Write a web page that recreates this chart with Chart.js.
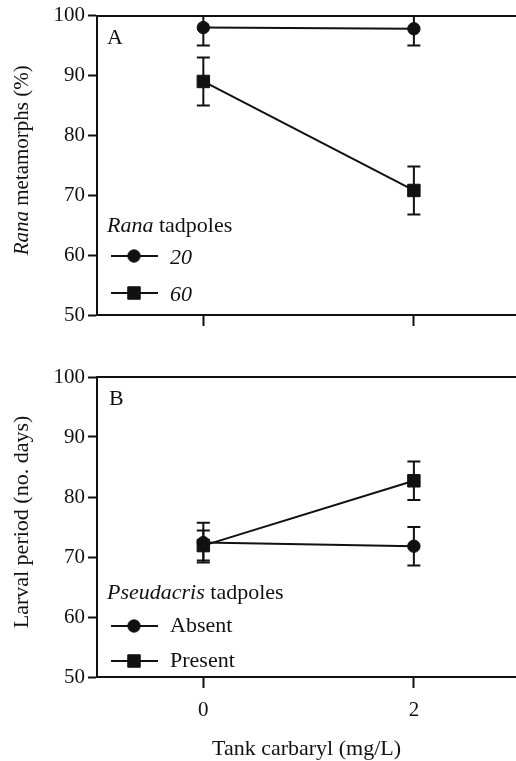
<!DOCTYPE html>
<html>
<head>
<meta charset="utf-8">
<script src="https://cdn.jsdelivr.net/npm/chart.js@4/dist/chart.umd.min.js"></script>
<style>
  html, body { margin: 0; padding: 0; background: #fff; }
  #wrap { position: relative; width: 516px; height: 761px; overflow: hidden; }
  canvas { position: absolute; left: 0; }
  #panelA { top: 0; }
  #panelB { top: 340px; }
</style>
</head>
<body>
<div id="wrap">
  <canvas id="panelA" width="516" height="340"></canvas>
  <canvas id="panelB" width="516" height="421"></canvas>
</div>
<script>
const carbaryl = [0, 2];
const xTicks = [0, 2];
const yTicks = [50, 60, 70, 80, 90, 100];

// A: Rana metamorphs (%), by Rana tadpole density
const rana20 = [98.0, 97.8];
const rana20Err = [3.0, 2.8];
const rana60 = [89.0, 70.8];
const rana60Err = [4.0, 4.0];

// B: larval period (days), Pseudacris absent / present
const pseudAbsent = [72.4, 71.8];
const pseudAbsentErr = [3.3, 3.2];
const pseudPresent = [71.9, 82.7];
const pseudPresentErr = [2.5, 3.2];

const INK = "#111";
const SERIF = "'Liberation Serif', 'Times New Roman', Times, serif";

function font(size, italic) {
  return (italic ? "italic " : "") + size + "px " + SERIF;
}

// draws [[text, italic], ...] on one baseline
function drawRich(ctx, parts, x, y, size, align) {
  let total = 0;
  parts.forEach(([t, it]) => { ctx.font = font(size, it); total += ctx.measureText(t).width; });
  let cx = align === "center" ? x - total / 2 : x;
  ctx.textBaseline = "middle";
  ctx.textAlign = "left";
  parts.forEach(([t, it]) => {
    ctx.font = font(size, it);
    ctx.fillText(t, cx, y);
    cx += ctx.measureText(t).width;
  });
}

const errorBars = {
  id: "errorBars",
  beforeDatasetsDraw(chart) {
    const { ctx, chartArea: a, scales: { x, y } } = chart;
    ctx.save();
    ctx.beginPath();
    ctx.rect(a.left, a.top, a.right - a.left, a.bottom - a.top);
    ctx.clip();
    ctx.strokeStyle = INK;
    ctx.lineWidth = 2;
    chart.data.datasets.forEach((ds) => {
      ds.data.forEach((p, i) => {
        const e = ds.errors[i];
        const px = x.getPixelForValue(p.x);
        const hi = y.getPixelForValue(p.y + e);
        const lo = y.getPixelForValue(p.y - e);
        ctx.beginPath();
        ctx.moveTo(px, hi); ctx.lineTo(px, lo);
        ctx.moveTo(px - 6.5, hi); ctx.lineTo(px + 6.5, hi);
        ctx.moveTo(px - 6.5, lo); ctx.lineTo(px + 6.5, lo);
        ctx.stroke();
      });
    });
    ctx.restore();
  },
};

const panelText = {
  id: "panelText",
  afterDraw(chart, args, opts) {
    const { ctx, chartArea: { left, top, bottom } } = chart;
    ctx.save();
    ctx.fillStyle = INK;
    ctx.strokeStyle = INK;

    // panel letter
    drawRich(ctx, [[opts.letter, false]], left + opts.letterX, top + opts.letterY, 22);

    // rotated y title
    ctx.save();
    ctx.translate(22, (top + bottom) / 2 - 5);
    ctx.rotate(-Math.PI / 2);
    drawRich(ctx, opts.yTitle, 0, 0, opts.yTitleSize, "center");
    ctx.restore();

    // legend block
    drawRich(ctx, opts.header, left + 10, bottom - opts.headerOffset, 22);
    chart.data.datasets.forEach((ds, i) => {
      const yy = bottom - opts.rowOffsets[i];
      ctx.lineWidth = 2;
      ctx.beginPath();
      ctx.moveTo(left + 14, yy);
      ctx.lineTo(left + 61, yy);
      ctx.stroke();
      ctx.lineWidth = 1;
      Chart.helpers.drawPoint(ctx, {
        pointStyle: ds.pointStyle, radius: ds.pointRadius, borderWidth: 1, rotation: 0,
      }, left + 37, yy);
      drawRich(ctx, [[ds.label, opts.italicLabels]], left + 73, yy + opts.labelDy, 22);
    });
    ctx.restore();
  },
};

function series(label, ys, errs, style) {
  return {
    label,
    data: carbaryl.map((c, i) => ({ x: c, y: ys[i] })),
    errors: errs,
    showLine: true,
    borderColor: INK,
    borderWidth: 2,
    backgroundColor: INK,
    pointBackgroundColor: INK,
    pointBorderColor: INK,
    pointBorderWidth: 1,
    pointStyle: style,
    pointRadius: style === "rect" ? 8.8 : 6.2,
    pointHoverRadius: style === "rect" ? 8.8 : 6.2,
    tension: 0,
  };
}

function makePanel(id, datasets, cfg) {
  return new Chart(document.getElementById(id), {
    type: "scatter",
    data: { datasets },
    options: {
      responsive: false,
      animation: false,
      events: [],
      layout: { autoPadding: false, padding: { top: cfg.padTop, right: 0, bottom: 0, left: 0 } },
      plugins: {
        legend: { display: false },
        tooltip: { enabled: false },
        panelText: cfg.text,
      },
      scales: {
        x: {
          type: "linear",
          position: "bottom",
          min: -1.01,
          max: 2.97,
          afterBuildTicks: (s) => { s.ticks = xTicks.map((v) => ({ value: v })); },
          afterFit: (s) => { s.height = cfg.xHeight; },
          grid: { drawOnChartArea: false, drawTicks: true, tickLength: 11, tickWidth: 2, tickColor: INK },
          border: { display: true, color: INK, width: 2 },
          ticks: {
            display: true,
            padding: 10,
            color: INK,
            font: { family: SERIF, size: 21 },
            maxRotation: 0,
            callback: (v) => (cfg.xLabels ? String(v) : ""),
          },
          title: {
            display: !!cfg.xTitle,
            text: cfg.xTitle || "",
            color: INK,
            font: { family: SERIF, size: 22 },
            padding: { top: 0, bottom: -1 },
          },
        },
        xTop: {
          type: "linear",
          position: "top",
          min: -1.01,
          max: 2.97,
          afterFit: (s) => { s.height = 0; },
          grid: { display: false, drawTicks: false },
          border: { display: true, color: INK, width: 2 },
          ticks: { display: false },
        },
        y: {
          type: "linear",
          min: 50,
          max: 100,
          afterBuildTicks: (s) => { s.ticks = yTicks.map((v) => ({ value: v })); },
          afterFit: (s) => { s.width = 97; },
          grid: { drawOnChartArea: false, drawTicks: true, tickLength: 9, tickWidth: 2, tickColor: INK },
          border: { display: true, color: INK, width: 2 },
          ticks: { padding: 3, color: INK, font: { family: SERIF, size: 21 } },
        },
      },
    },
    plugins: [errorBars, panelText],
  });
}

makePanel("panelA", [
  series("20", rana20, rana20Err, "circle"),
  series("60", rana60, rana60Err, "rect"),
], {
  padTop: 15,
  xHeight: 25,
  xLabels: false,
  text: {
    letter: "A", letterX: 10, letterY: 23,
    yTitle: [["Rana", true], [" metamorphs (%)", false]],
    yTitleSize: 21,
    header: [["Rana", true], [" tadpoles", false]],
    headerOffset: 89,
    rowOffsets: [59, 22],
    italicLabels: true,
    labelDy: 2,
  },
});

makePanel("panelB", [
  series("Absent", pseudAbsent, pseudAbsentErr, "circle"),
  series("Present", pseudPresent, pseudPresentErr, "rect"),
], {
  padTop: 37,
  xHeight: 84,
  xLabels: true,
  xTitle: "Tank carbaryl (mg/L)",
  text: {
    letter: "B", letterX: 12, letterY: 22,
    yTitle: [["Larval period (no. days)", false]],
    yTitleSize: 22,
    header: [["Pseudacris", true], [" tadpoles", false]],
    headerOffset: 84,
    rowOffsets: [51, 16],
    italicLabels: false,
    labelDy: 0,
  },
});
</script>
</body>
</html>
